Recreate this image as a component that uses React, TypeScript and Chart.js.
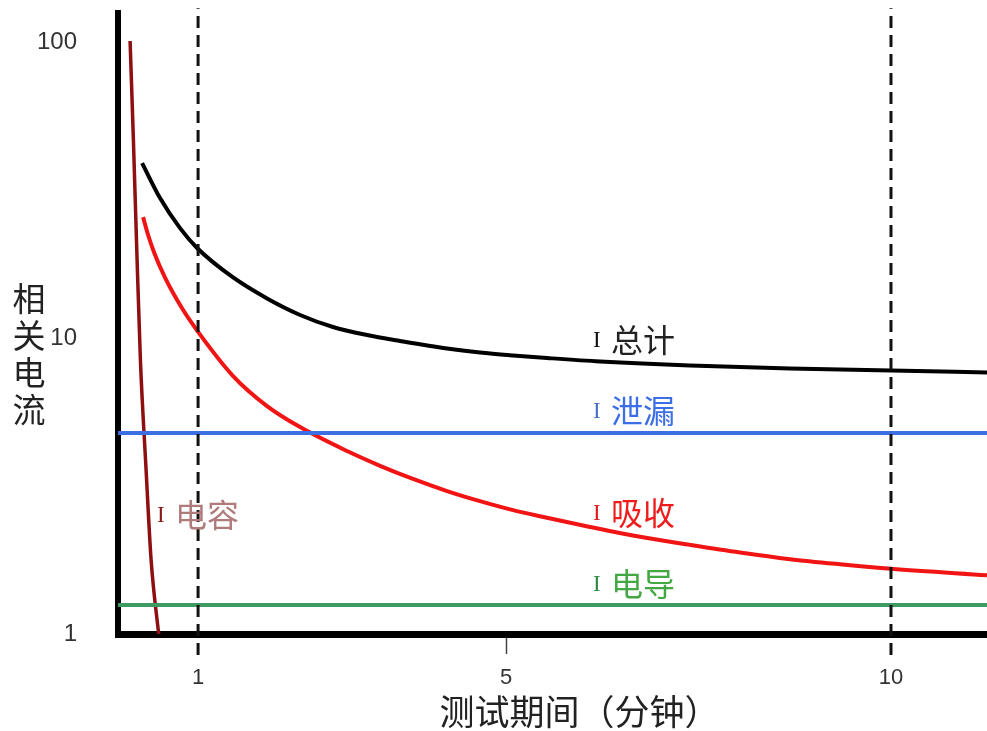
import React, { useEffect, useRef } from "react";
import { Chart, registerables } from "chart.js";

Chart.register(...registerables);

// ---- data (time in minutes, relative current on log scale) ----
const timeTotal = [0.273, 0.506, 0.766, 0.987, 1.455, 1.896, 2.325, 2.753, 3.195, 3.623, 4.234, 4.662, 5.091, 5.532, 6.221, 7.39, 8.688, 10.0, 11.247];
const currentTotal = [39.0, 29.7, 23.5, 20.14, 16.01, 13.6, 11.96, 10.89, 10.23, 9.77, 9.21, 8.93, 8.73, 8.56, 8.33, 8.07, 7.89, 7.77, 7.65];

const timeAbsorption = [0.286, 0.351, 0.429, 0.571, 0.792, 1.0, 1.455, 1.896, 2.325, 2.935, 3.364, 3.792, 4.234, 4.662, 5.091, 5.532, 6.091, 6.74, 7.39, 8.039, 8.688, 9.338, 10.0, 11.247];
const currentAbsorption = [25.6, 22.28, 19.46, 15.99, 12.6, 10.49, 7.44, 5.89, 5.0, 4.15, 3.7, 3.34, 3.04, 2.81, 2.62, 2.47, 2.3, 2.13, 2.0, 1.885, 1.79, 1.72, 1.66, 1.58];

const timeCapacitive = [0.117, 0.16, 0.204, 0.251, 0.325, 0.39, 0.497];
const currentCapacitive = [100.8, 46.7, 19.8, 8.43, 3.58, 1.78, 0.954];

const timeFlat = [-0.04, 11.247];
const currentLeakage = [4.78, 4.78];
const currentConduction = [1.253, 1.253];

const markerTimes = [1, 10];
const markerSpan = [0.85, 130];

const xTickValues = [1, 5, 10];
const xTickLabels = ["1", "5", "10"];
const yTickValues = [1, 10, 100];
const yTickLabels = ["1", "10", "100"];

const seriesNames = ["总计", "泄漏", "吸收", "电导", "电容"];
const labelTimes = [6.13, 6.13, 6.13, 6.13, 0.468];
const labelCurrents = [9.84, 5.67, 2.56, 1.476, 2.52];
const labelMarkColors = ["#111111", "#4a6fc4", "#e01b1b", "#2b8a3e", "#8b1a1a"];
const labelTextColors = ["#222222", "#3c6ee8", "#ee1c1c", "#43a843", "#b07b7b"];

const yTitleChars = ["相", "关", "电", "流"];
const xTitle = "测试期间（分钟）";

const zip = (xs: number[], ys: number[]) => xs.map((x, i) => ({ x, y: ys[i] }));

const CJK = '"Noto Sans CJK SC", "Noto Sans", sans-serif';
const LATIN = '"Liberation Sans", Arial, sans-serif';

const textPlugin = {
  id: "chartTexts",
  afterDatasetsDraw(chart: any) {
    const { ctx, chartArea, scales } = chart;
    const x = scales.x;
    const y = scales.y;
    ctx.save();
    ctx.textBaseline = "middle";
    ctx.textAlign = "left";
    seriesNames.forEach((name, i) => {
      const px = x.getPixelForValue(labelTimes[i]);
      const py = y.getPixelForValue(labelCurrents[i]);
      ctx.font = '23px "Liberation Serif", "Times New Roman", serif';
      ctx.fillStyle = labelMarkColors[i];
      ctx.fillText("I", px, py + 1);
      ctx.font = "32px " + CJK;
      ctx.fillStyle = labelTextColors[i];
      ctx.fillText(name, px + 18, py);
    });
    // y title: stacked characters
    ctx.textAlign = "center";
    ctx.font = "33px " + CJK;
    ctx.fillStyle = "#222222";
    const cx = chartArea.left - 89;
    const cy0 = chartArea.top + 285;
    yTitleChars.forEach((c, i) => {
      ctx.fillText(c, cx, cy0 + i * 37.3);
    });
    // x title
    ctx.font = "35px " + CJK;
    ctx.fillText(xTitle, (chartArea.left + chartArea.right) / 2 + 27, chartArea.bottom + 78);
    ctx.restore();
  },
};

export default function App() {
  const canvasRef = useRef<HTMLCanvasElement | null>(null);

  useEffect(() => {
    if (!canvasRef.current) return;
    const lineBase = {
      pointRadius: 0,
      borderWidth: 4,
      fill: false,
      cubicInterpolationMode: "monotone" as const,
    };
    const chart = new Chart(canvasRef.current, {
      type: "line",
      data: {
        datasets: [
          ...markerTimes.map((t) => ({
            label: "marker " + t,
            data: markerSpan.map((v) => ({ x: t, y: v })),
            borderColor: "#111111",
            borderWidth: 3,
            borderDash: [12, 7],
            pointRadius: 0,
            clip: false as any,
          })),
          { ...lineBase, label: "总计", data: zip(timeTotal, currentTotal), borderColor: "#000000" },
          { ...lineBase, label: "泄漏", data: zip(timeFlat, currentLeakage), borderColor: "#3b6fe3" },
          { ...lineBase, label: "吸收", data: zip(timeAbsorption, currentAbsorption), borderColor: "#f01414" },
          { ...lineBase, label: "电导", data: zip(timeFlat, currentConduction), borderColor: "#3d9a62" },
          { ...lineBase, label: "电容", data: zip(timeCapacitive, currentCapacitive), borderColor: "#8e0f0f", borderWidth: 3.5 },
        ],
      },
      options: {
        animation: false,
        responsive: true,
        maintainAspectRatio: false,
        events: [],
        layout: { padding: { top: 13, right: 0, bottom: 0, left: 0 } },
        plugins: { legend: { display: false }, tooltip: { enabled: false }, title: { display: false } },
        scales: {
          x: {
            type: "linear",
            min: -0.04,
            max: 11.247,
            afterBuildTicks: (scale: any) => {
              scale.ticks = xTickValues.map((value) => ({ value }));
            },
            afterFit: (scale: any) => {
              scale.height = 97;
              scale.paddingLeft = 0;
              scale.paddingRight = 0;
            },
            ticks: {
              autoSkip: false,
              maxRotation: 0,
              padding: 11,
              color: "#333333",
              font: { size: 22, family: LATIN },
              callback: (value: any) => xTickLabels[xTickValues.indexOf(Number(value))],
            },
            grid: {
              display: true,
              drawOnChartArea: false,
              drawTicks: true,
              tickLength: 20,
              tickWidth: 1.5,
              tickColor: (ctx: any) => (ctx.tick && ctx.tick.value === 5 ? "#444444" : "rgba(0,0,0,0)"),
              color: "rgba(0,0,0,0)",
            },
            border: { display: true, color: "#000000", width: 7 },
          },
          y: {
            type: "logarithmic",
            min: 1,
            max: 125.3,
            afterBuildTicks: (scale: any) => {
              scale.ticks = yTickValues.map((value) => ({ value }));
            },
            afterFit: (scale: any) => {
              scale.width = 118;
              scale.paddingTop = 0;
              scale.paddingBottom = 0;
            },
            ticks: {
              padding: 41,
              color: "#333333",
              font: { size: 24, family: LATIN },
              callback: (value: any) => yTickLabels[yTickValues.indexOf(Number(value))],
            },
            grid: { display: false, drawTicks: false },
            border: { display: true, color: "#000000", width: 6 },
          },
        },
      },
      plugins: [textPlugin],
    } as any);
    return () => chart.destroy();
  }, []);

  return (
    <div style={{ position: "fixed", left: 0, top: 0, width: 987, height: 731, background: "#ffffff" }}>
      <canvas ref={canvasRef} />
    </div>
  );
}
